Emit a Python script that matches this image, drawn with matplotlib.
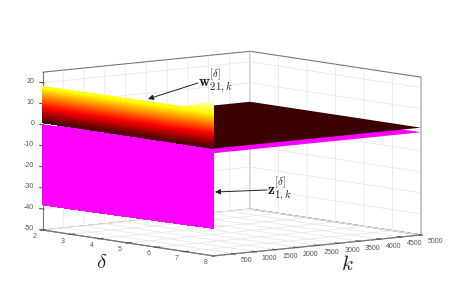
import numpy as np
import matplotlib
matplotlib.use('Agg')
import matplotlib.pyplot as plt
from matplotlib.colors import Normalize
from mpl_toolkits.mplot3d import proj3d

delta_ticks = [2, 3, 4, 5, 6, 7, 8]
k_ticks = [500, 1000, 1500, 2000, 2500, 3000, 3500, 4000, 4500, 5000]
z_ticks = [-50, -40, -30, -20, -10, 0, 10, 20]

# values
delta_wall = [2, 3, 4, 5, 6, 7, 7.1, 7.2, 7.3, 7.4, 7.5, 7.6, 7.7, 7.8, 7.9, 8]
w_top = [18.2, 18.3, 18.4, 18.5, 18.6, 18.7, 19.2, 19.7, 20.2, 20.7, 21.2, 21.7, 22.2, 22.8, 23.4, 24]
z_bottom = [-38, -38, -37.8, -37.6, -37.4, -37.2, -37.2, -37.1, -37.1, -37.1, -37.1, -37, -37, -37, -37, -37]
w_floor = 1.0
z_floor = -1.2

plt.rcParams['font.family'] = ['Liberation Sans', 'DejaVu Sans']
plt.rcParams['mathtext.fontset'] = 'cm'
plt.rcParams['axes.unicode_minus'] = False

W, H = 467, 283
fig = plt.figure(figsize=(W / 100, H / 100), dpi=100)
ax = fig.add_axes([-0.5, -1, 2, 3], projection='3d', computed_zorder=False)
ax.set_proj_type('ortho')
ax.view_init(elev=7.1, azim=-39.2)
ax.set_box_aspect((270.6, 268.3, 159.2))

norm = Normalize(-0.8, 24)
hot = plt.get_cmap('hot')
dark = hot(norm(w_floor))

d = np.array(delta_wall, dtype=float)
top = np.array(w_top)
bot = np.array(z_bottom)
frac = np.linspace(0, 1, 120)

# flat parts, k from 0 to 5000
D, K = np.meshgrid([2, 8], [0, 5000])
ax.plot_surface(D, K, np.full(D.shape, z_floor), color='#ff00ff', shade=False, linewidth=0, zorder=1)
ax.plot_surface(D, K, np.full(D.shape, w_floor), color=dark, shade=False, linewidth=0, zorder=3)

# walls at k = 0
Dm = np.array([d, d])
Km = np.zeros(Dm.shape)
Zm = np.array([bot, np.full(d.shape, 0.0)])
ax.plot_surface(Dm, Km, Zm, color='#ff00ff', shade=False, linewidth=0, antialiased=False, zorder=2)

Dw = np.tile(d, (len(frac), 1))
Kw = np.zeros(Dw.shape)
Zw = w_floor + np.outer(frac, top - w_floor)
ax.plot_surface(Dw, Kw, Zw, facecolors=hot(norm(Zw)), shade=False, linewidth=0,
                antialiased=False, rstride=1, cstride=1, zorder=4)

ax.set_xlim(2, 8, view_margin=0)
ax.set_ylim(0, 5000, view_margin=0)
ax.set_zlim(-50, 25, view_margin=0)
ax.set_xticks(delta_ticks)
ax.set_yticks(k_ticks)
ax.set_zticks(z_ticks)
ax.zaxis._axinfo['juggled'] = (1, 2, 0)
ax.tick_params(labelsize=5, colors='#555555', length=2)
ax.tick_params(axis='x', pad=4)
ax.tick_params(axis='y', pad=4)
ax.tick_params(axis='z', pad=-1)

for axis in (ax.xaxis, ax.yaxis, ax.zaxis):
    axis.set_pane_color('white')
    axis.pane.set_edgecolor('#777777')
    axis.pane.set_linewidth(0.8)
    axis.line.set_color('#777777')
    axis.line.set_linewidth(0.8)
    axis._axinfo['grid'].update(color='#e4e4e4', linewidth=0.5)
    axis._axinfo['tick']['outward_factor'] = 0.2
    axis._axinfo['tick']['inward_factor'] = 0.1

for t in ax.xaxis.get_ticklabels():
    t.set_va('center')
for t in ax.yaxis.get_ticklabels():
    t.set_ha('left')
    t.set_va('center')
for t in ax.zaxis.get_ticklabels():
    t.set_ha('right')
    t.set_va('baseline')


def to_px(x, y, z):
    px, py, _ = proj3d.proj_transform(x, y, z, ax.get_proj())
    return ax.transData.transform((px, py))


# fit the box on the corners seen in the reference
fig.canvas.draw()
p0 = to_px(2, 0, -50)
p1 = to_px(8, 5000, -50)
zoom = (421 - 42.5) / (p1[0] - p0[0])
ax.set_box_aspect((270.6, 268.3, 159.2), zoom=zoom)
fig.canvas.draw()
p0 = to_px(2, 0, -50)
pos = ax.get_position()
ax.set_position([pos.x0 + (42.5 - p0[0]) / W, pos.y0 + ((H - 230) - p0[1]) / H, pos.width, pos.height])


def fx(x):
    return x / W


def fy(y):
    return 1 - y / H


fig.text(fx(102), fy(262), r'$\delta$', fontsize=15, ha='center', va='center', color='#222222')
fig.text(fx(347), fy(265), r'$k$', fontsize=15, ha='center', va='center', color='#222222')

arrow = dict(arrowstyle='-|>', color='#222222', lw=0.7, mutation_scale=8, shrinkA=0, shrinkB=0)
ax.annotate('', xy=(fx(148), fy(99)), xytext=(fx(198), fy(83)),
            xycoords='figure fraction', textcoords='figure fraction', arrowprops=arrow)
ax.annotate('', xy=(fx(215), fy(192)), xytext=(fx(267), fy(190)),
            xycoords='figure fraction', textcoords='figure fraction', arrowprops=arrow)
fig.text(fx(198), fy(81), r'$\mathbf{w}_{21,k}^{[\delta]}$', fontsize=11, ha='left', va='center', color='#222222')
fig.text(fx(267), fy(189), r'$\mathbf{z}_{1,k}^{[\delta]}$', fontsize=11, ha='left', va='center', color='#222222')

fig.savefig('out.png', dpi=100)
